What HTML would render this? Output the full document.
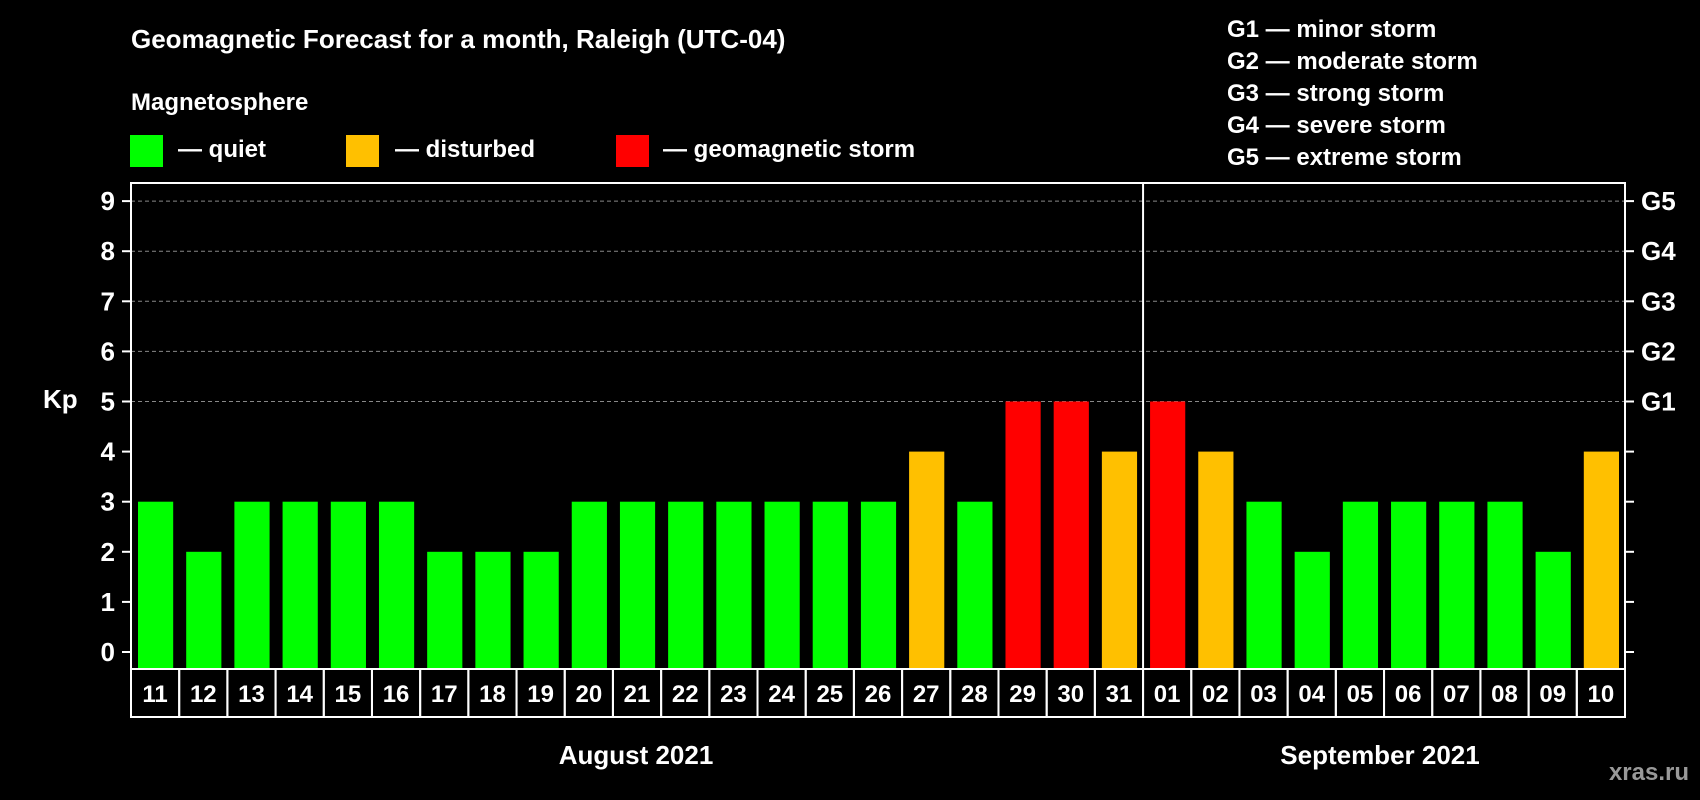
<!DOCTYPE html>
<html><head><meta charset="utf-8"><style>
body{margin:0;background:#000;width:1700px;height:800px;overflow:hidden}
svg{display:block;font-family:"Liberation Sans",Arial,sans-serif;font-weight:bold}
</style></head><body>
<svg id="chart" width="1700" height="800" xmlns="http://www.w3.org/2000/svg">
<text x="131" y="48" fill="#fff" font-size="26">Geomagnetic Forecast for a month, Raleigh (UTC-04)</text>
<text x="131" y="110" fill="#fff" font-size="24">Magnetosphere</text>
<rect x="130" y="135" width="33" height="32" fill="#00ff00"/>
<text x="178" y="157" fill="#fff" font-size="24">— quiet</text>
<rect x="346" y="135" width="33" height="32" fill="#ffc000"/>
<text x="395" y="157" fill="#fff" font-size="24">— disturbed</text>
<rect x="616" y="135" width="33" height="32" fill="#ff0000"/>
<text x="663" y="157" fill="#fff" font-size="24">— geomagnetic storm</text>
<g fill="#fff" font-size="24">
<text x="1227" y="37">G1 — minor storm</text>
<text x="1227" y="69">G2 — moderate storm</text>
<text x="1227" y="101">G3 — strong storm</text>
<text x="1227" y="133">G4 — severe storm</text>
<text x="1227" y="165">G5 — extreme storm</text>
</g>
<text x="43" y="408" fill="#fff" font-size="26">Kp</text>
<g id="plot"></g>
<text x="636" y="764" fill="#fff" font-size="26" text-anchor="middle">August 2021</text>
<text x="1380" y="764" fill="#fff" font-size="26" text-anchor="middle">September 2021</text>
<text x="1689" y="780" fill="#999" font-size="24" text-anchor="end">xras.ru</text>
</svg>
<script>
const days=["11","12","13","14","15","16","17","18","19","20","21","22","23","24","25","26","27","28","29","30","31","01","02","03","04","05","06","07","08","09","10"];
const kp=[3,2,3,3,3,3,2,2,2,3,3,3,3,3,3,3,4,3,5,5,4,5,4,3,2,3,3,3,3,2,4];
const yTicks=[0,1,2,3,4,5,6,7,8,9];
const gLabels=[[5,"G1"],[6,"G2"],[7,"G3"],[8,"G4"],[9,"G5"]];
const NS="http://www.w3.org/2000/svg";
const L=131,R=1625,T=183,B=669,Y0=652,UNIT=50.1;
const slot=(R-L)/days.length;
const y=v=>Y0-v*UNIT;
const x=i=>L+i*slot;
const g=document.getElementById('plot');
function mk(t,a){const e=document.createElementNS(NS,t);for(const k in a)e.setAttribute(k,a[k]);g.appendChild(e);return e;}
yTicks.forEach(v=>{
 if(v>=5){const l=mk('line',{x1:L,x2:R,y1:y(v),y2:y(v),stroke:'#888','stroke-width':1,'stroke-dasharray':'4,3'});}
 const t1=mk('line',{x1:L-9,x2:L,y1:y(v),y2:y(v),stroke:'#fff','stroke-width':2});
 const t2=mk('line',{x1:R,x2:R+9,y1:y(v),y2:y(v),stroke:'#fff','stroke-width':2});
 const tx=mk('text',{x:115,y:y(v)+9,fill:'#fff','font-size':26,'text-anchor':'end'});tx.textContent=v;
 
});
gLabels.forEach(([v,s])=>{const tx=mk('text',{x:1641,y:y(v)+9,fill:'#fff','font-size':26});tx.textContent=s;
 });
kp.forEach((v,i)=>{
 const c=v>=5?'#ff0000':(v==4?'#ffc000':'#00ff00');
 const r=mk('rect',{x:x(i)+7,y:y(v),width:slot-13,height:B-y(v),fill:c});
 
 const cell=mk('rect',{x:x(i),y:B,width:slot,height:48,fill:'none',stroke:'#fff','stroke-width':2});
 
 const t=mk('text',{x:x(i)+slot/2,y:B+33,fill:'#fff','font-size':24,'text-anchor':'middle'});t.textContent=days[i];
 
});
const box=mk('rect',{x:L,y:T,width:R-L,height:B-T,fill:'none',stroke:'#fff','stroke-width':2});

const di=days.indexOf("01");
const dv=mk('line',{x1:x(di),x2:x(di),y1:T,y2:B,stroke:'#fff','stroke-width':2});

</script>
</body></html>
